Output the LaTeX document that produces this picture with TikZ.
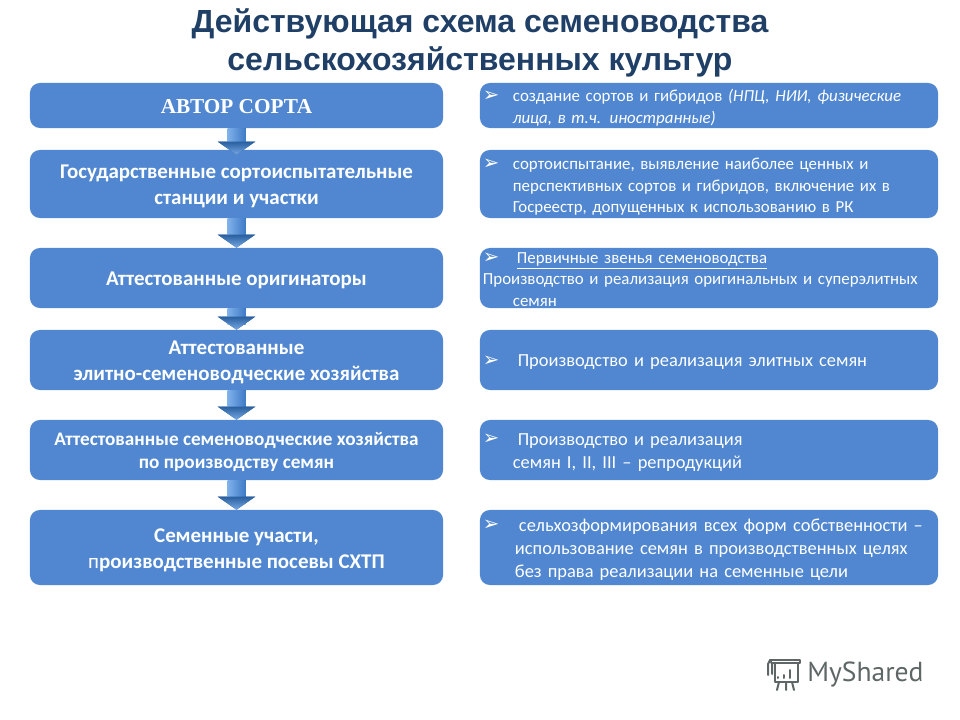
\documentclass[tikz,border=0pt]{standalone}
\usepackage{fontspec}
\setmainfont{Carlito}
\newfontfamily\titlefont{Liberation Sans}
\newfontfamily\serifhead{Liberation Serif}
\newfontfamily\logofont{PT Sans}
\newfontfamily\markfont{DejaVu Sans}
\usetikzlibrary{arrows.meta, positioning}
\definecolor{boxblue}{HTML}{5087D0}
\definecolor{titleblue}{HTML}{1F3F66}
\definecolor{arrowlight}{HTML}{7FB0EA}
\definecolor{arrowmid}{HTML}{3F7AC6}
\definecolor{arrowdark}{HTML}{2A609F}
\definecolor{logogray}{HTML}{5E6666}
\tikzset{
  leftbox/.style={rectangle, rounded corners=0.25cm, fill=boxblue, text=white, minimum width=10.325cm, align=center, inner sep=0pt, font=\fontsize{14.9}{18.5}\selectfont\bfseries},
  rightbox/.style={rectangle, rounded corners=0.25cm, fill=boxblue, text=white, minimum width=11.45cm, text width=11.3cm, align=left, inner xsep=0.075cm, inner ysep=0pt, font=\fontsize{12}{15}\selectfont},
  bigtext/.style={font=\fontsize{13.1}{16.5}\selectfont},
  flowline/.style={draw=arrowdark, line width=0.45cm, -{Triangle[width=0.925cm, length=0.325cm]}},
  shine/.style={left color=arrowlight, right color=arrowmid},
  headshine/.style={top color=arrowdark, bottom color=arrowlight!80!boxblue},
  logoline/.style={draw=logogray, line width=0.05cm, line cap=round, line join=round}
}
\newcommand{\lift}[1]{\rule{0pt}{#1pt}}
\newcommand{\mk}{\makebox[0.75cm][l]{\raisebox{0.5pt}{\markfont\fontsize{14}{10}\selectfont ➢}}}
\newcommand{\flowarrow}[3][0]{
  \draw[flowline, shorten >=-#1*0.025cm] (#2.south) -- (#3.north);
  \shade[shine] (#2.south) ++(-9,0) rectangle ++(18,16);
  \shade[headshine] (#3.north) ++(-18.5,{#1-13}) -- ++(37,0) -- ++(-18.5,13) -- cycle;
}
\begin{document}
\begin{tikzpicture}[x=0.025cm, y=-0.025cm]
\useasboundingbox (0,0) rectangle (960,720);
% Title
\node[font=\titlefont\fontsize{22.75}{27}\selectfont\bfseries, text=titleblue, align=center] (title) at (480,43) {Действующая схема семеноводства\\сельскохозяйственных культур};
% Left column
\node[leftbox, minimum height=1.125cm, font=\serifhead\fontsize{15.1}{16}\selectfont\bfseries] (author) at (236.5,105.5) {\lift{11.7}АВТОР СОРТА};
\node[leftbox, minimum height=1.7cm] (stations) at (236.5,184) {\lift{13}Государственные сортоиспытательные\\станции и участки};
\node[leftbox, minimum height=1.5cm] (origin) at (236.5,278) {\lift{13.3}Аттестованные оригинаторы};
\node[leftbox, minimum height=1.5cm] (elite) at (236.5,360) {\lift{13}Аттестованные\\элитно-семеноводческие хозяйства};
\node[leftbox, minimum height=1.5cm, font=\fontsize{13.65}{16.4}\selectfont\bfseries] (farms) at (236.5,450) {\lift{12.3}Аттестованные семеноводческие хозяйства\\по производству семян};
\node[leftbox, minimum height=1.875cm] (plots) at (236.5,547.5) {\lift{14}Семенные участи,\\{\mdseries п}роизводственные посевы СХТП};
% Arrows
\flowarrow[5]{author}{stations}
\flowarrow{stations}{origin}
\flowarrow{origin}{elite}
\flowarrow{elite}{farms}
\flowarrow{farms}{plots}
% Right column
\node[rightbox, minimum height=1.125cm] (create) at (709,105.5) {\lift{12}\mk создание сортов и гибридов \textit{(НПЦ, НИИ, физические}\\\hspace*{0.75cm}\textit{лица, в т.ч. иностранные)}};
\node[rightbox, minimum height=1.7cm] (test) at (709,184) {\lift{12}\mk сортоиспытание, выявление наиболее ценных и\\\hspace*{0.75cm}перспективных сортов и гибридов, включение их в\\\hspace*{0.75cm}Госреестр, допущенных к использованию в РК};
\node[rightbox, minimum height=1.5cm] (primary) at (709,278) {\mk\hspace{0.1cm}\underline{Первичные звенья семеноводства}\\Производство и реализация оригинальных и суперэлитных\\\hspace*{0.75cm}семян\par\vspace{-2pt}};
\node[rightbox, bigtext, minimum height=1.5cm] (eliteseed) at (709,360) {\lift{12}\mk\hspace{0.12cm}Производство и реализация элитных семян};
\node[rightbox, bigtext, minimum height=1.5cm] (repro) at (709,450) {\lift{12}\mk\hspace{0.12cm}Производство и реализация\\\hspace*{0.75cm}семян I, II, III – репродукций};
\node[rightbox, bigtext, minimum height=1.875cm] (owners) at (709,547.5) {\lift{12}\mk\hspace{0.15cm}сельхозформирования всех форм собственности –\\\hspace*{0.8cm}использование семян в производственных целях\\\hspace*{0.8cm}без права реализации на семенные цели};
% Logo
\node[font=\logofont\fontsize{19.6}{24}\selectfont, text=logogray, anchor=west, inner sep=0pt] (logo) at (807,675) {MyShared};
\draw[logoline] (770,660) -- (800,660) -- (800,663) -- (772,663);
\draw[logoline] (770,660) -- (768,664) -- (768,675) (770,660) -- (772,664) -- (772,674);
\draw[logoline] (775,663) -- (775,682) -- (798,682) -- (798,663);
\draw[logoline] (778,678) -- (778,677) (784,678) -- (784,675) (790,678) -- (790,670);
\draw[logoline] (779,682) -- (777,690) (786,682) -- (786,690) (792,682) -- (794,690);
\end{tikzpicture}
\end{document}
